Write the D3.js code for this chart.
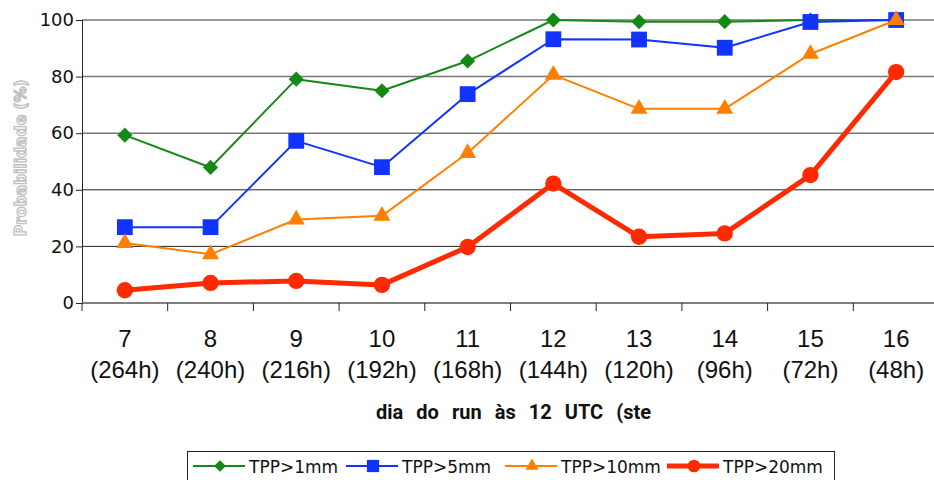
<!DOCTYPE html>
<html lang="pt">
<head>
<meta charset="UTF-8">
<title>Probabilidade TPP</title>
<script src="https://d3js.org/d3.v7.min.js"></script>
<style>
    body { margin: 0; background: #fff; }
    .ytick { font-family: "DejaVu Sans", sans-serif; font-size: 18px; }
    .xtick { font-family: "Liberation Sans", Arial, sans-serif; font-size: 24px; }
    .ylabel { font-family: "DejaVu Sans", sans-serif; font-size: 15.5px; font-weight: bold; }
    .xlabel { font-family: Roboto, "DejaVu Sans", sans-serif; font-size: 20px; font-weight: bold; }
    .legend_text { font-family: "DejaVu Sans", sans-serif; font-size: 17px; }
</style>
</head>
<body>
<svg width="934" height="480"></svg>
<script>
    // data
    const days = ["7", "8", "9", "10", "11", "12", "13", "14", "15", "16"];
    const steps = ["(264h)", "(240h)", "(216h)", "(192h)", "(168h)", "(144h)", "(120h)", "(96h)", "(72h)", "(48h)"];
    const tpp1 = [59.3, 47.9, 79.1, 75, 85.5, 100, 99.4, 99.4, 100, 100];
    const tpp5 = [26.8, 26.8, 57.3, 48, 73.8, 93.2, 93.1, 90.2, 99.3, 100];
    const tpp10 = [21.2, 17.2, 29.5, 30.8, 53, 80.6, 68.6, 68.6, 88, 100];
    const tpp20 = [4.5, 7.1, 7.8, 6.4, 19.8, 42.2, 23.4, 24.6, 45.2, 81.6];
    const yTicks = [0, 20, 40, 60, 80, 100];

    const svg = d3.select("svg");
    const plotLeft = 82, plotRight = 939, plotTop = 20, plotBottom = 303;

    const x = d3.scaleBand().domain(days).range([plotLeft, plotRight]);
    const y = d3.scaleLinear().domain([0, 100]).range([plotBottom, plotTop]);

    // grid lines
    svg.append("g").selectAll("line")
        .data(yTicks.filter(d => d > 0))
        .enter().append("line")
        .attr("x1", plotLeft).attr("x2", plotRight)
        .attr("y1", d => y(d)).attr("y2", d => y(d))
        .attr("stroke", d => d >= 60 ? "#777" : "#222")
        .attr("stroke-width", d => d >= 60 ? 1.5 : 1);

    // y axis
    const yAxis = svg.append("g")
        .attr("transform", `translate(${plotLeft},0)`)
        .call(d3.axisLeft(y).tickValues(yTicks).tickSize(6).tickPadding(2));
    yAxis.select(".domain").attr("stroke", "#222");
    yAxis.selectAll(".tick line").attr("stroke", "#222");
    yAxis.selectAll("text").attr("class", "ytick").attr("fill", "#111");

    // x axis (ticks between categories)
    svg.append("line")
        .attr("x1", plotLeft).attr("x2", plotRight)
        .attr("y1", plotBottom).attr("y2", plotBottom)
        .attr("stroke", "#555").attr("stroke-width", 1.5);
    svg.append("g").selectAll("line")
        .data(days)
        .enter().append("line")
        .attr("x1", d => x(d)).attr("x2", d => x(d))
        .attr("y1", plotBottom).attr("y2", plotBottom + 8)
        .attr("stroke", "#222");

    const cx = d => x(d) + x.bandwidth() / 2;
    svg.append("g").selectAll("text")
        .data(days)
        .enter().append("text")
        .attr("class", "xtick")
        .attr("x", d => cx(d)).attr("y", 347)
        .attr("text-anchor", "middle")
        .attr("fill", "#111")
        .text(d => d);
    svg.append("g").selectAll("text")
        .data(days)
        .enter().append("text")
        .attr("class", "xtick")
        .attr("x", (d, i) => cx(days[i])).attr("y", 378)
        .attr("text-anchor", "middle")
        .attr("fill", "#111")
        .text((d, i) => steps[i]);

    // axis titles
    svg.append("text")
        .attr("class", "ylabel")
        .attr("transform", "translate(26,158) rotate(-90)")
        .attr("text-anchor", "middle")
        .attr("fill", "#fff")
        .attr("stroke", "#c0c0c0").attr("stroke-width", 1.3)
        .text("Probabilidade (%)");

    const xTitle = svg.append("text")
        .attr("class", "xlabel")
        .attr("x", 376).attr("y", 419)
        .attr("fill", "#111")
        .text("dia do run às 12 UTC (ste");
    // widen the gaps between words to fill the same span as the original
    const titleLen = xTitle.node().getComputedTextLength();
    xTitle.style("word-spacing", Math.max(0, (275 - titleLen) / 6) + "px");

    // series
    const series = [
        { name: "TPP>1mm", values: tpp1, color: "#148a14", width: 2, symbol: d3.symbolSquare, size: 115, rot: 45 },
        { name: "TPP>5mm", values: tpp5, color: "#1133ff", width: 2, symbol: d3.symbolSquare, size: 250, rot: 0 },
        { name: "TPP>10mm", values: tpp10, color: "#ff8000", width: 2, symbol: d3.symbolTriangle, size: 125, rot: 0 },
        { name: "TPP>20mm", values: tpp20, color: "#ff2a00", width: 5, symbol: d3.symbolCircle, size: 210, rot: 0 }
    ];

    const line = d3.line().x((d, i) => cx(days[i])).y(d => y(d));

    series.forEach(function (s) {
        const g = svg.append("g");
        g.append("path")
            .attr("d", line(s.values))
            .attr("fill", "none")
            .attr("stroke", s.color)
            .attr("stroke-width", s.width)
            .attr("stroke-linejoin", "round");
        g.selectAll("path.mark")
            .data(s.values)
            .enter().append("path")
            .attr("class", "mark")
            .attr("d", d3.symbol().type(s.symbol).size(s.size))
            .attr("transform", (d, i) => `translate(${cx(days[i])},${y(d)}) rotate(${s.rot})`)
            .attr("fill", s.color);
    });

    // legend
    const legend = svg.append("g");
    legend.append("rect")
        .attr("x", 187.5).attr("y", 451.5)
        .attr("width", 647).attr("height", 40)
        .attr("fill", "#fff").attr("stroke", "#222");
    const legendX = [193, 346, 505, 667];
    series.forEach(function (s, i) {
        const lx = legendX[i], ly = 466;
        legend.append("line")
            .attr("x1", lx).attr("x2", lx + 52)
            .attr("y1", ly).attr("y2", ly)
            .attr("stroke", s.color).attr("stroke-width", s.width);
        legend.append("path")
            .attr("d", d3.symbol().type(s.symbol).size(s.size * 0.6))
            .attr("transform", `translate(${lx + 27},${ly}) rotate(${s.rot})`)
            .attr("fill", s.color);
        legend.append("text")
            .attr("class", "legend_text")
            .attr("x", lx + 56).attr("y", 473)
            .attr("fill", "#111")
            .text(s.name);
    });
</script>
</body>
</html>
